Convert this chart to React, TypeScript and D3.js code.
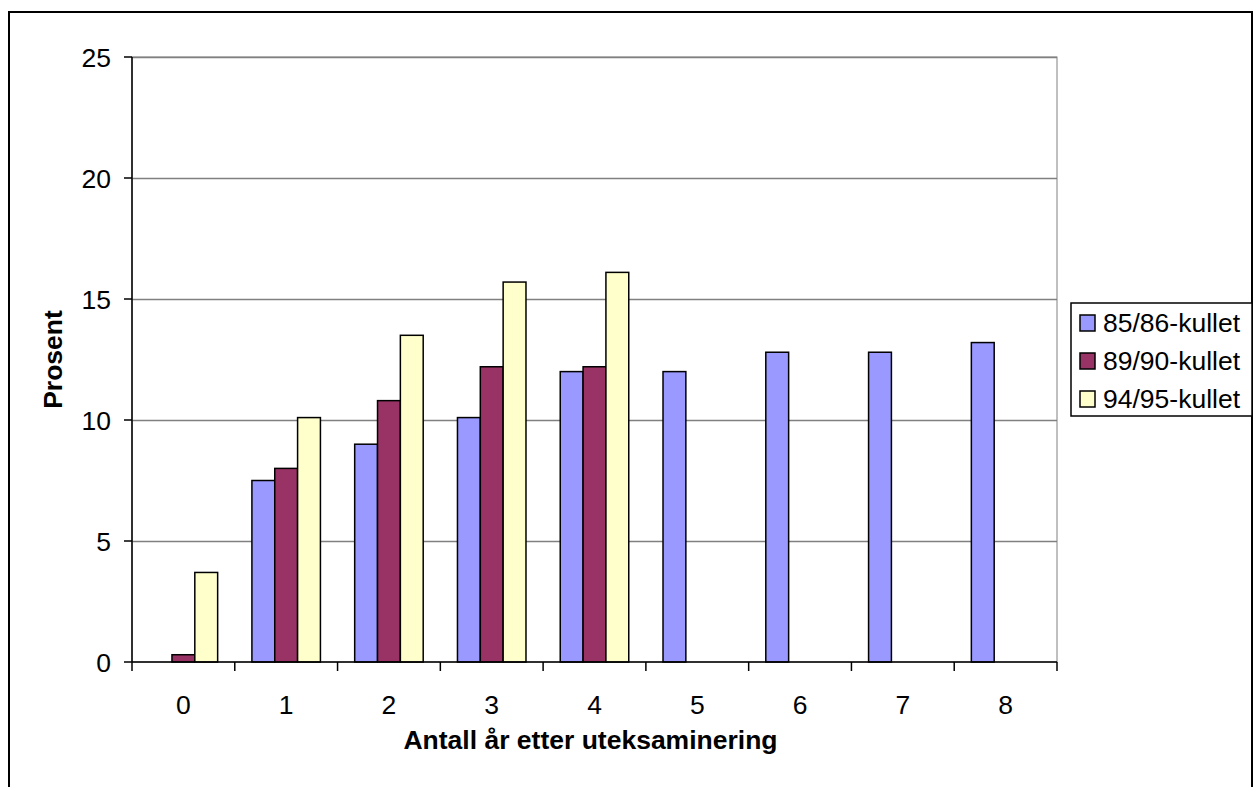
import React from "react";
import * as d3 from "d3";

const categories = ["0", "1", "2", "3", "4", "5", "6", "7", "8"];
const seriesNames = ["85/86-kullet", "89/90-kullet", "94/95-kullet"];
const s8586: (number | null)[] = [null, 7.5, 9.0, 10.1, 12.0, 12.0, 12.8, 12.8, 13.2];
const s8990: (number | null)[] = [0.3, 8.0, 10.8, 12.2, 12.2, null, null, null, null];
const s9495: (number | null)[] = [3.7, 10.1, 13.5, 15.7, 16.1, null, null, null, null];
const yTicks = [0, 5, 10, 15, 20, 25];
const colors = ["#9999FF", "#993366", "#FFFFCC"];

const W = 1253;
const H = 787;
const plot = { left: 132, right: 1057, top: 57, bottom: 662 };
const FONT = "Liberation Sans, Arial, sans-serif";
const FS = 26.5;

export default function App() {
  const series = [s8586, s8990, s9495];
  const x = d3.scaleBand<string>().domain(categories).range([plot.left, plot.right]).paddingInner(0).paddingOuter(0);
  const bw = x.bandwidth();
  const barW = bw / 4.5;
  const groupOffset = (bw - barW * 3) / 2;
  const y = d3.scaleLinear().domain([0, 25]).range([plot.bottom, plot.top]);

  return (
    <svg width={W} height={H} style={{ position: "absolute", left: 0, top: 0 }} fontFamily={FONT}>
      <rect x={0} y={0} width={W} height={H} fill="#fff" />
      {/* outer chart border */}
      <rect x={9} y={12} width={1243} height={H + 20} fill="none" stroke="#000" strokeWidth={2} />
      {/* plot area border */}
      <rect x={plot.left} y={plot.top} width={plot.right - plot.left} height={plot.bottom - plot.top} fill="none" stroke="#808080" strokeWidth={1} />
      {/* gridlines */}
      {yTicks.filter((t) => t > 0).map((t) => (
        <line key={t} x1={plot.left} x2={plot.right} y1={Math.round(y(t)) + 0.5} y2={Math.round(y(t)) + 0.5} stroke="#808080" strokeWidth={1.5} />
      ))}
      {/* bars */}
      {series.map((s, si) =>
        s.map((v, ci) =>
          v == null ? null : (
            <rect
              key={`${si}-${ci}`}
              x={(x(categories[ci]) as number) + groupOffset + si * barW}
              y={y(v)}
              width={barW}
              height={y(0) - y(v)}
              fill={colors[si]}
              stroke="#000"
              strokeWidth={1.5}
            />
          )
        )
      )}
      {/* axes */}
      <line x1={plot.left} x2={plot.left} y1={plot.top} y2={plot.bottom} stroke="#000" strokeWidth={1.5} />
      <line x1={plot.left} x2={plot.right} y1={plot.bottom} y2={plot.bottom} stroke="#000" strokeWidth={1.5} />
      {yTicks.map((t) => (
        <g key={t}>
          <line x1={plot.left - 8} x2={plot.left} y1={y(t)} y2={y(t)} stroke="#000" strokeWidth={1.5} />
          <text x={111} y={y(t) + 9.5} textAnchor="end" fontSize={FS} fill="#000">
            {t}
          </text>
        </g>
      ))}
      {categories.map((c) => (
        <line key={"t" + c} x1={x(c) as number} x2={x(c) as number} y1={plot.bottom} y2={plot.bottom + 9} stroke="#000" strokeWidth={1.5} />
      ))}
      <line x1={plot.right} x2={plot.right} y1={plot.bottom} y2={plot.bottom + 9} stroke="#000" strokeWidth={1.5} />
      {categories.map((c) => (
        <text key={"l" + c} x={(x(c) as number) + bw / 2} y={714} textAnchor="middle" fontSize={FS} fill="#000">
          {c}
        </text>
      ))}
      {/* axis titles */}
      <text x={(plot.left + plot.right) / 2 - 4} y={749} textAnchor="middle" fontSize={FS} fontWeight="bold" fill="#000">
        Antall år etter uteksaminering
      </text>
      <text transform={`translate(62, ${(plot.top + plot.bottom) / 2}) rotate(-90)`} textAnchor="middle" fontSize={FS} fontWeight="bold" fill="#000">
        Prosent
      </text>
      {/* legend */}
      <rect x={1071} y={303} width={181} height={113} fill="#fff" stroke="#000" strokeWidth={1.5} />
      {seriesNames.map((n, i) => (
        <g key={n}>
          <rect x={1080} y={315 + i * 38} width={15} height={16} fill={colors[i]} stroke="#000" strokeWidth={1.5} />
          <text x={1103} y={332 + i * 38} fontSize={FS} fill="#000">
            {n}
          </text>
        </g>
      ))}
    </svg>
  );
}
